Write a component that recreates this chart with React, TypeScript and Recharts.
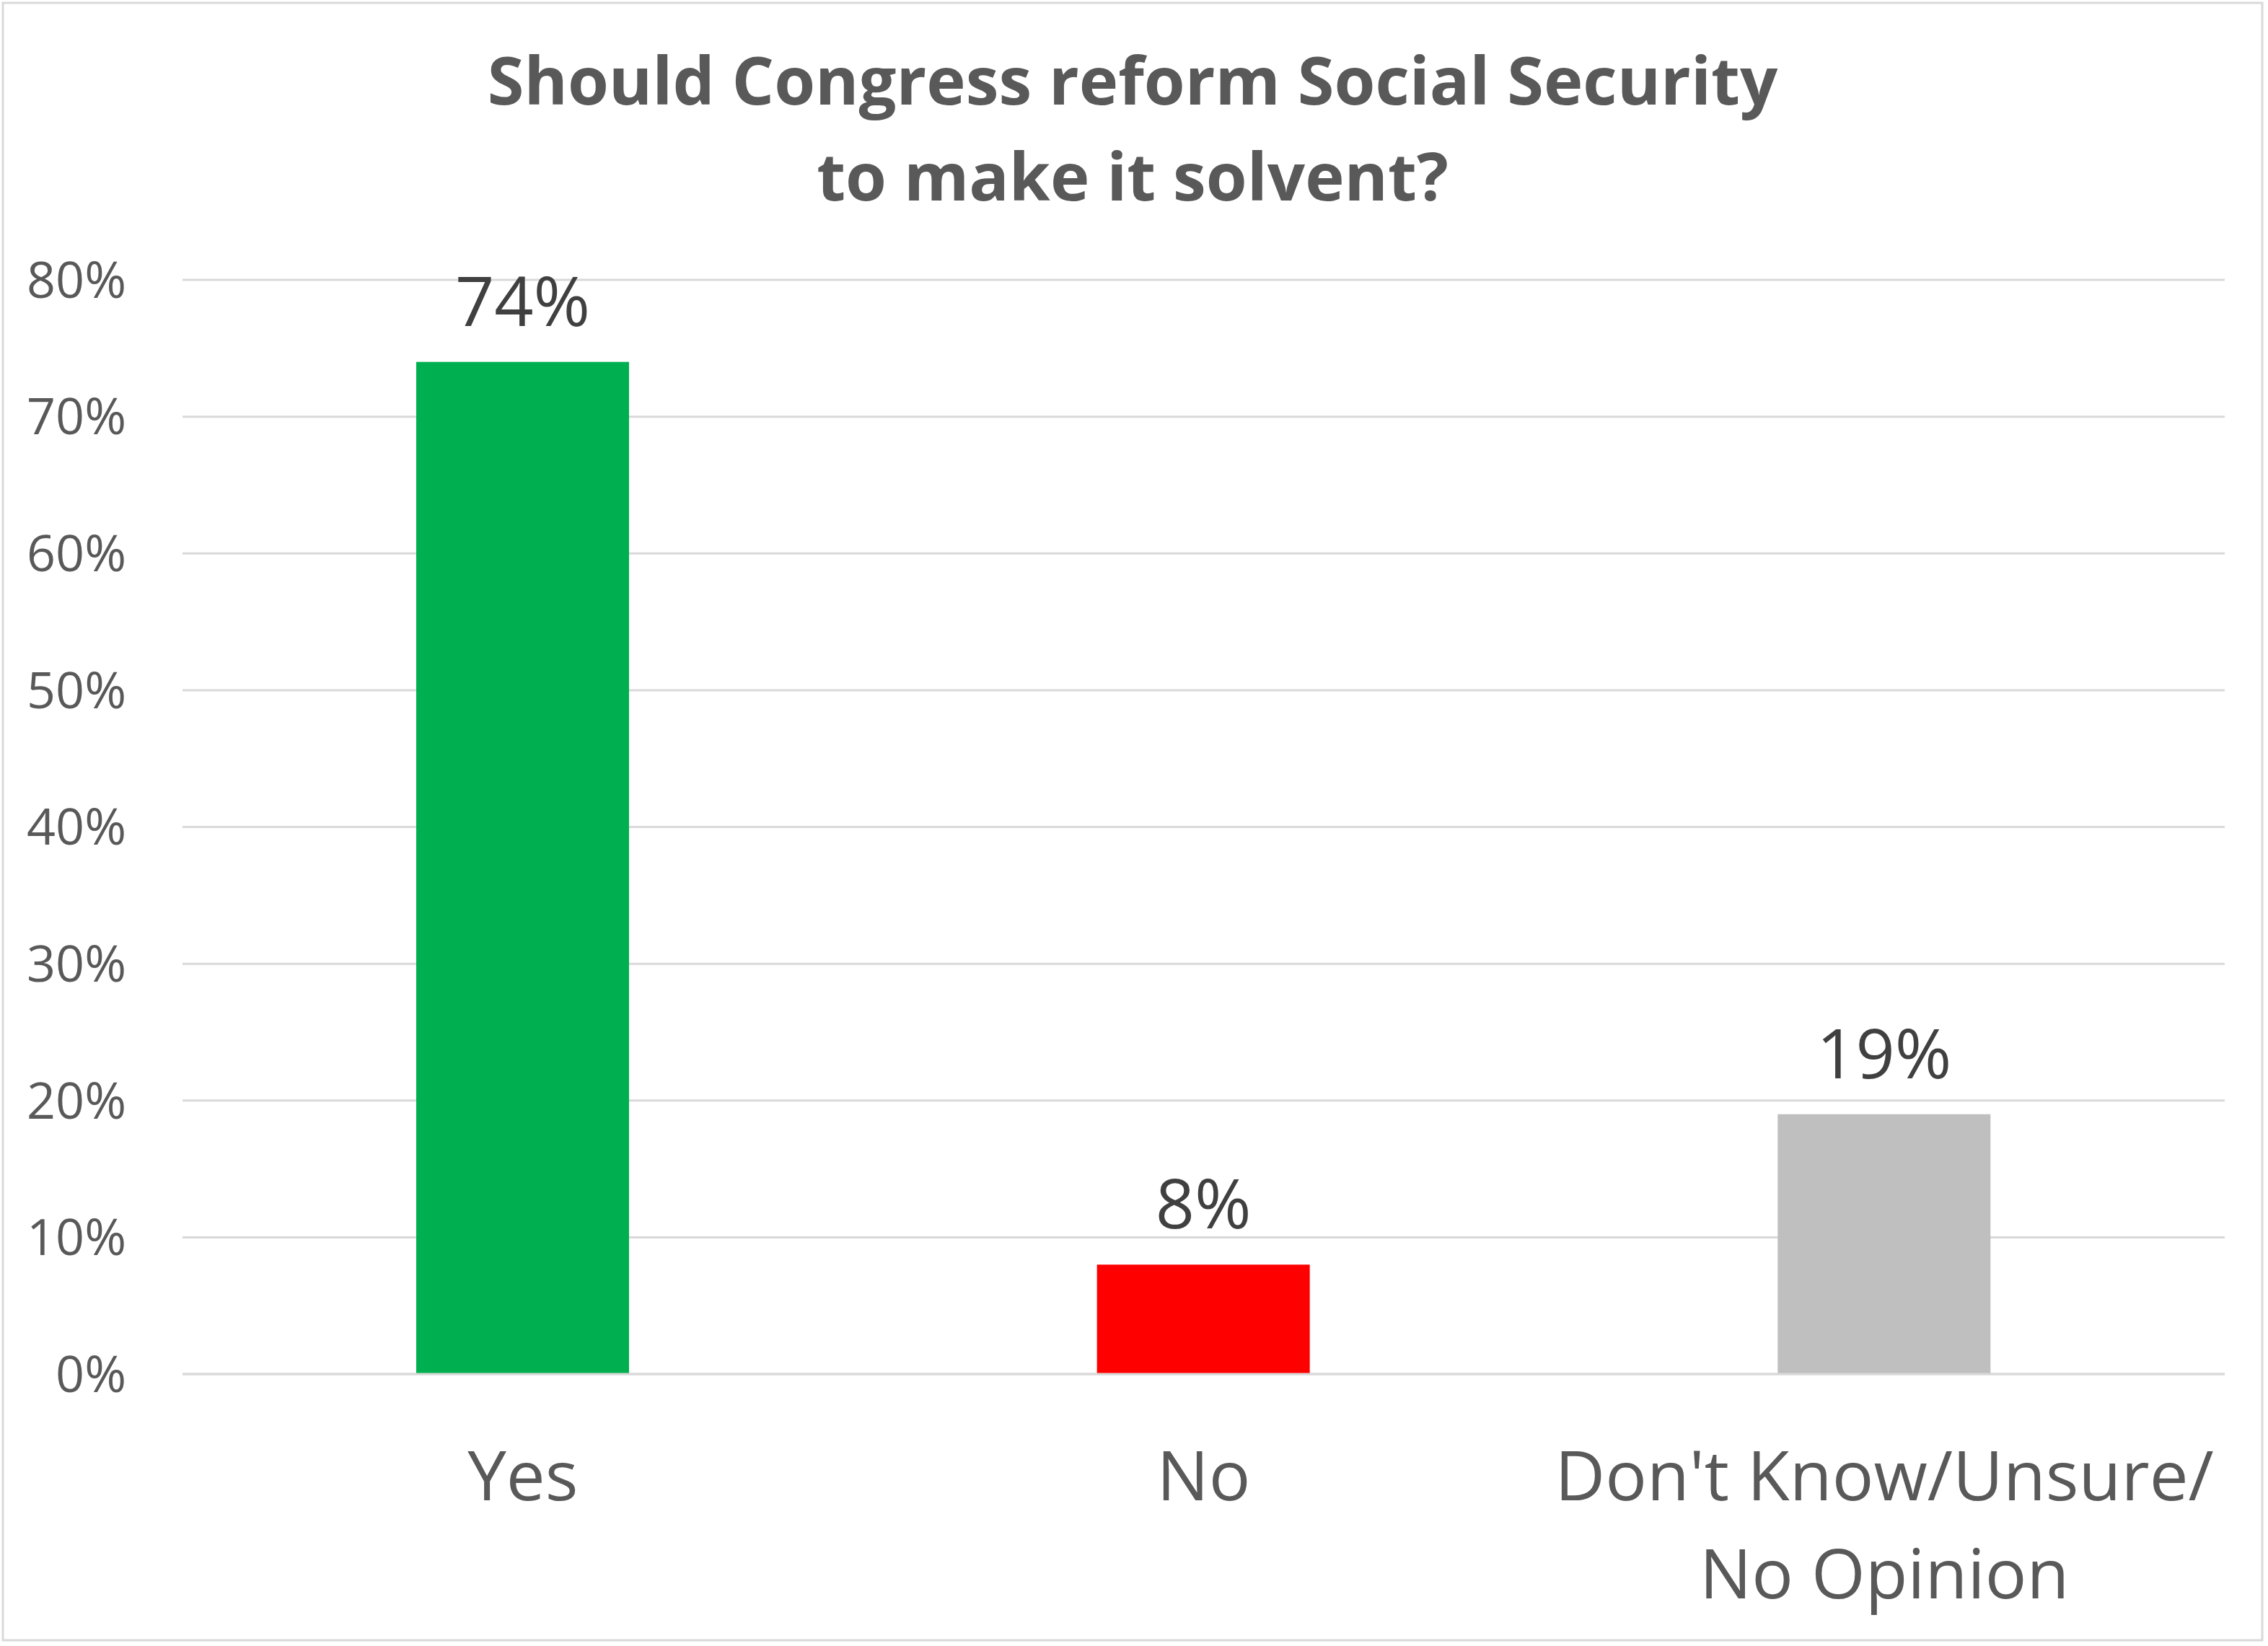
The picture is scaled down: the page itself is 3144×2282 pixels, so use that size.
import React from "react";
import { BarChart, Bar, XAxis, YAxis, CartesianGrid, Cell, LabelList } from "recharts";

const categories = ["Yes", "No", "Don't Know/Unsure/No Opinion"];
const shares = [0.74, 0.08, 0.19];
const barColors = ["#00B050", "#FF0000", "#BFBFBF"];
const yTicks = [0, 0.1, 0.2, 0.3, 0.4, 0.5, 0.6, 0.7, 0.8];
const titleLines = ["Should Congress reform Social Security", "to make it solvent?"];

const W = 3144;
const H = 2282;
const FONT = "'Open Sans', 'Noto Sans', sans-serif";

const data = categories.map((name, i) => ({ name, value: shares[i] }));

const pct = (v: number) => `${Math.round(v * 100)}%`;

// break long category names after a slash, like the Excel wrap
function wrap(label: string): string[] {
  if (label.length <= 18) return [label];
  const i = label.lastIndexOf("/", 18);
  return [label.slice(0, i + 1), label.slice(i + 1)];
}

function CategoryTick(props: any) {
  const { x, y, payload } = props;
  const lines = wrap(payload.value);
  return (
    <text x={x} y={y} textAnchor="middle" fill="#595959" fontSize={96} fontFamily={FONT}>
      {lines.map((l, i) => (
        <tspan key={i} x={x} y={y + 175 + i * 136}>
          {l}
        </tspan>
      ))}
    </text>
  );
}

function TopLabel(props: any) {
  const { x, y, width, value } = props;
  return (
    <text
      x={x + width / 2}
      y={y - 50}
      textAnchor="middle"
      fill="#404040"
      fontSize={95}
      fontFamily={FONT}
    >
      {pct(value)}
    </text>
  );
}

export default function App() {
  return (
    <div style={{ position: "relative", width: W, height: H, background: "#fff" }}>
      <style>{`body{margin:0}`}</style>
      <BarChart
        width={W}
        height={H}
        data={data}
        margin={{ top: 388, right: 60, left: 0, bottom: 0 }}
      >
        <CartesianGrid vertical={false} stroke="#D9D9D9" strokeWidth={3} />
        <XAxis
          dataKey="name"
          height={377}
          axisLine={{ stroke: "#D9D9D9", strokeWidth: 3 }}
          tickLine={false}
          tickSize={0}
          tickMargin={0}
          interval={0}
          tick={<CategoryTick />}
        />
        <YAxis
          width={253}
          domain={[0, 0.8]}
          ticks={yTicks}
          tickFormatter={pct}
          axisLine={false}
          tickLine={false}
          tickSize={0}
          tickMargin={78}
          tick={{ fill: "#595959", fontSize: 70, fontFamily: FONT }}
        />
        <Bar dataKey="value" barSize={295} isAnimationActive={false}>
          {data.map((d, i) => (
            <Cell key={d.name} fill={barColors[i]} />
          ))}
          <LabelList dataKey="value" content={<TopLabel />} />
        </Bar>
      </BarChart>
      <svg
        width={W}
        height={H}
        style={{ position: "absolute", left: 0, top: 0, pointerEvents: "none" }}
      >
        <rect x={4} y={4} width={3132} height={2270} fill="none" stroke="#D9D9D9" strokeWidth={3} />
        {titleLines.map((t, i) => (
          <text
            key={t}
            x={1570}
            y={145 + i * 133}
            textAnchor="middle"
            fill="#595959"
            fontSize={92}
            fontWeight={700}
            fontFamily={FONT}
          >
            {t}
          </text>
        ))}
      </svg>
    </div>
  );
}
